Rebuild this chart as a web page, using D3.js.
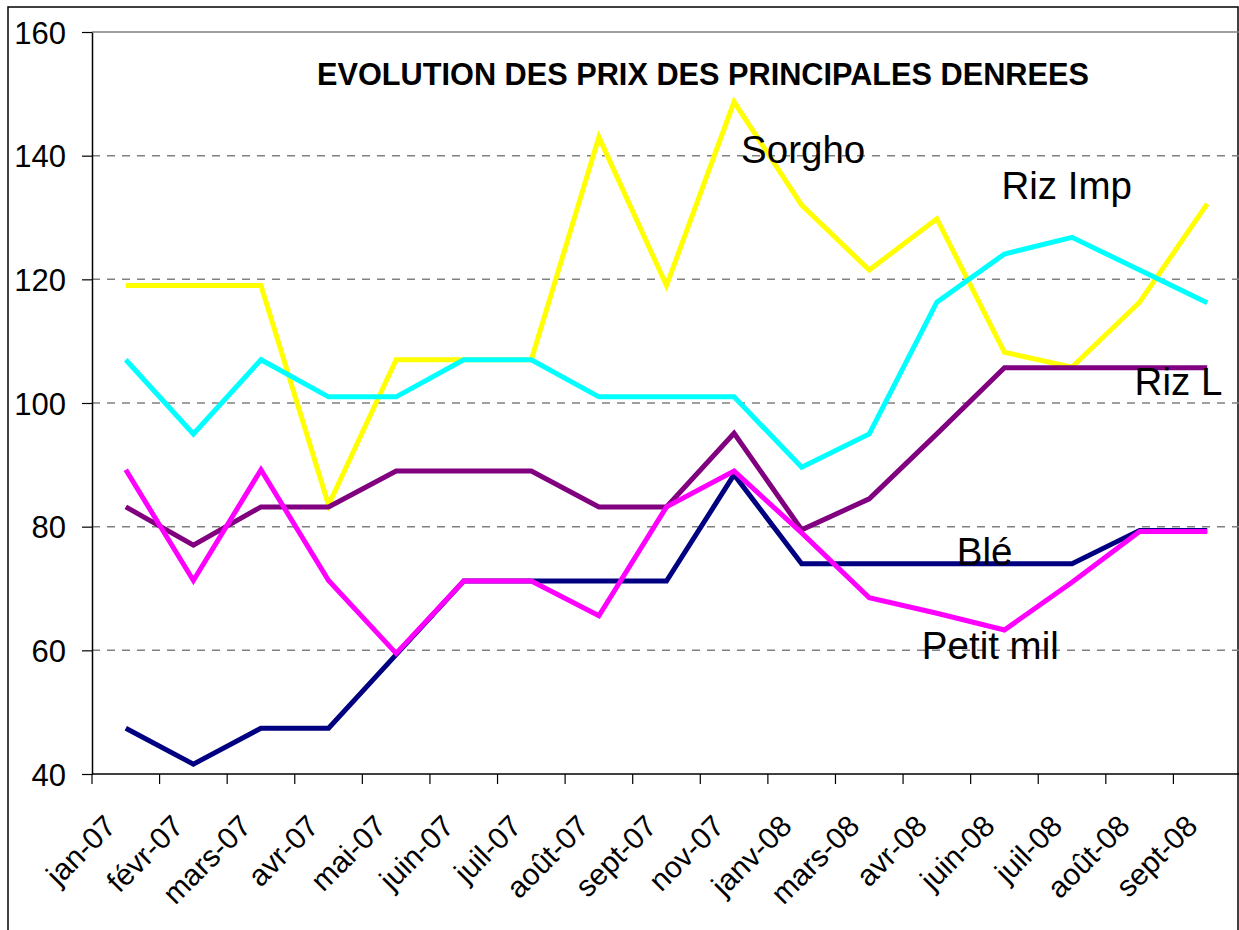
<!DOCTYPE html>
<html>
<head>
<meta charset="utf-8">
<script src="https://cdn.jsdelivr.net/npm/d3@7"></script>
<style>
  body { margin: 0; background: #fff; }
  text { font-family: Arial, "Liberation Sans", sans-serif; fill: #000; }
</style>
</head>
<body>
<script>
// months on the x axis
const months = ["jan-07","févr-07","mars-07","avr-07","mai-07","juin-07","juil-07","août-07","sept-07",
  "nov-07","janv-08","mars-08","avr-08","juin-08","juil-08","août-08","sept-08"];

// prices
const sorgho   = [119,119,119,83.5,107,107,107,143,119,148.7,132,121.5,129.8,108.2,105.8,116.3,132.2];
const rizImp   = [107,95,107,101,101,107,107,101,101,101,89.6,95,116.3,124.1,126.8,121.5,116.2];
const rizL     = [83.2,77,83.2,83.2,89,89,89,83.2,83.2,95.1,79.5,84.5,95,105.7,105.7,105.7,105.7];
const ble      = [47.4,41.6,47.4,47.4,59.3,71.2,71.2,71.2,71.2,88.4,74,74,74,74,74,79.4,79.4];
const petitMil = [89.2,71.3,89.2,71.3,59.5,71.2,71.2,65.6,83.2,89,79,68.5,66,63.3,71,79.2,79.2];

const yTicks = [40,60,80,100,120,140,160];

const series = [
  {name:"Sorgho", values:sorgho, color:"#FFFF00"},
  {name:"Riz Imp", values:rizImp, color:"#00FFFF"},
  {name:"Riz L", values:rizL, color:"#800080"},
  {name:"Blé", values:ble, color:"#000080"},
  {name:"Petit mil", values:petitMil, color:"#FF00FF"}
];

// where the series names sit (category, value)
const labels = [
  {text:"Sorgho", at:"nov-07", v:138.8, dx:7},
  {text:"Riz Imp", at:"juin-08", v:133, dx:-3},
  {text:"Riz L", at:"août-08", v:101.3, dx:-5},
  {text:"Blé", at:"avr-08", v:73.8, dx:20},
  {text:"Petit mil", at:"avr-08", v:58.6, dx:-15}
];

const W = 1239, H = 930;
const m = {left:92, top:32, right:1241, bottom:774};

const svg = d3.select("body").append("svg")
  .attr("width", W).attr("height", H);

const x = d3.scaleBand().domain(months).range([m.left, m.right]).padding(0);
const y = d3.scaleLinear().domain([40,160]).range([m.bottom, m.top]);
const cx = d => x(d) + x.bandwidth()/2;

// outer frame
svg.append("rect")
  .attr("x", 8).attr("y", 7).attr("width", 1230).attr("height", 940)
  .attr("fill", "none").attr("stroke", "#000").attr("stroke-width", 1.5);

// plot area top border
svg.append("line")
  .attr("x1", m.left).attr("x2", m.right).attr("y1", m.top).attr("y2", m.top)
  .attr("stroke", "#808080").attr("stroke-width", 1.5);

// grid
svg.append("g").selectAll("line")
  .data(yTicks.filter(d => d > 40 && d < 160))
  .enter().append("line")
  .attr("x1", m.left).attr("x2", m.right)
  .attr("y1", d => y(d)).attr("y2", d => y(d))
  .attr("stroke", "#808080").attr("stroke-width", 1.5)
  .attr("stroke-dasharray", "8,7");

// y axis
const yAxis = svg.append("g")
  .attr("transform", `translate(${m.left},0)`)
  .call(d3.axisLeft(y).tickValues(yTicks).tickSize(10).tickPadding(16).tickSizeOuter(0));
yAxis.select(".domain").attr("stroke", "#000").attr("stroke-width", 1.5);
yAxis.selectAll(".tick line").attr("stroke", "#000").attr("stroke-width", 1.2);
yAxis.selectAll("text").attr("font-size", 31).attr("font-family", "Arial, 'Liberation Sans', sans-serif")
  .attr("dy", "0.36em");

// x axis: ticks at category boundaries
const xg = svg.append("g");
xg.append("line")
  .attr("x1", m.left).attr("x2", m.right).attr("y1", m.bottom).attr("y2", m.bottom)
  .attr("stroke", "#000").attr("stroke-width", 1.5);
xg.selectAll(".xt")
  .data(months)
  .enter().append("line")
  .attr("x1", d => x(d)).attr("x2", d => x(d))
  .attr("y1", m.bottom).attr("y2", m.bottom + 10)
  .attr("stroke", "#000").attr("stroke-width", 1.2);
xg.selectAll(".xl")
  .data(months)
  .enter().append("text")
  .attr("text-anchor", "end")
  .attr("font-size", 30)
  .attr("transform", d => `translate(${cx(d) - 8},828) rotate(-45)`)
  .text(d => d);

// lines
const line = d3.line()
  .x((d, i) => cx(months[i]))
  .y(d => y(d));

svg.append("g").selectAll("path")
  .data(series)
  .enter().append("path")
  .attr("d", d => line(d.values))
  .attr("fill", "none")
  .attr("stroke", d => d.color)
  .attr("stroke-width", 5)
  .attr("stroke-linejoin", "miter");

// title
svg.append("text")
  .attr("x", 703).attr("y", 85)
  .attr("text-anchor", "middle")
  .attr("font-size", 30.7).attr("font-weight", "bold")
  .text("EVOLUTION DES PRIX DES PRINCIPALES DENREES");

// series names
svg.append("g").selectAll("text")
  .data(labels)
  .enter().append("text")
  .attr("x", d => cx(d.at) + d.dx)
  .attr("y", d => y(d.v))
  .attr("font-size", 38.5)
  .text(d => d.text);
</script>
</body>
</html>
